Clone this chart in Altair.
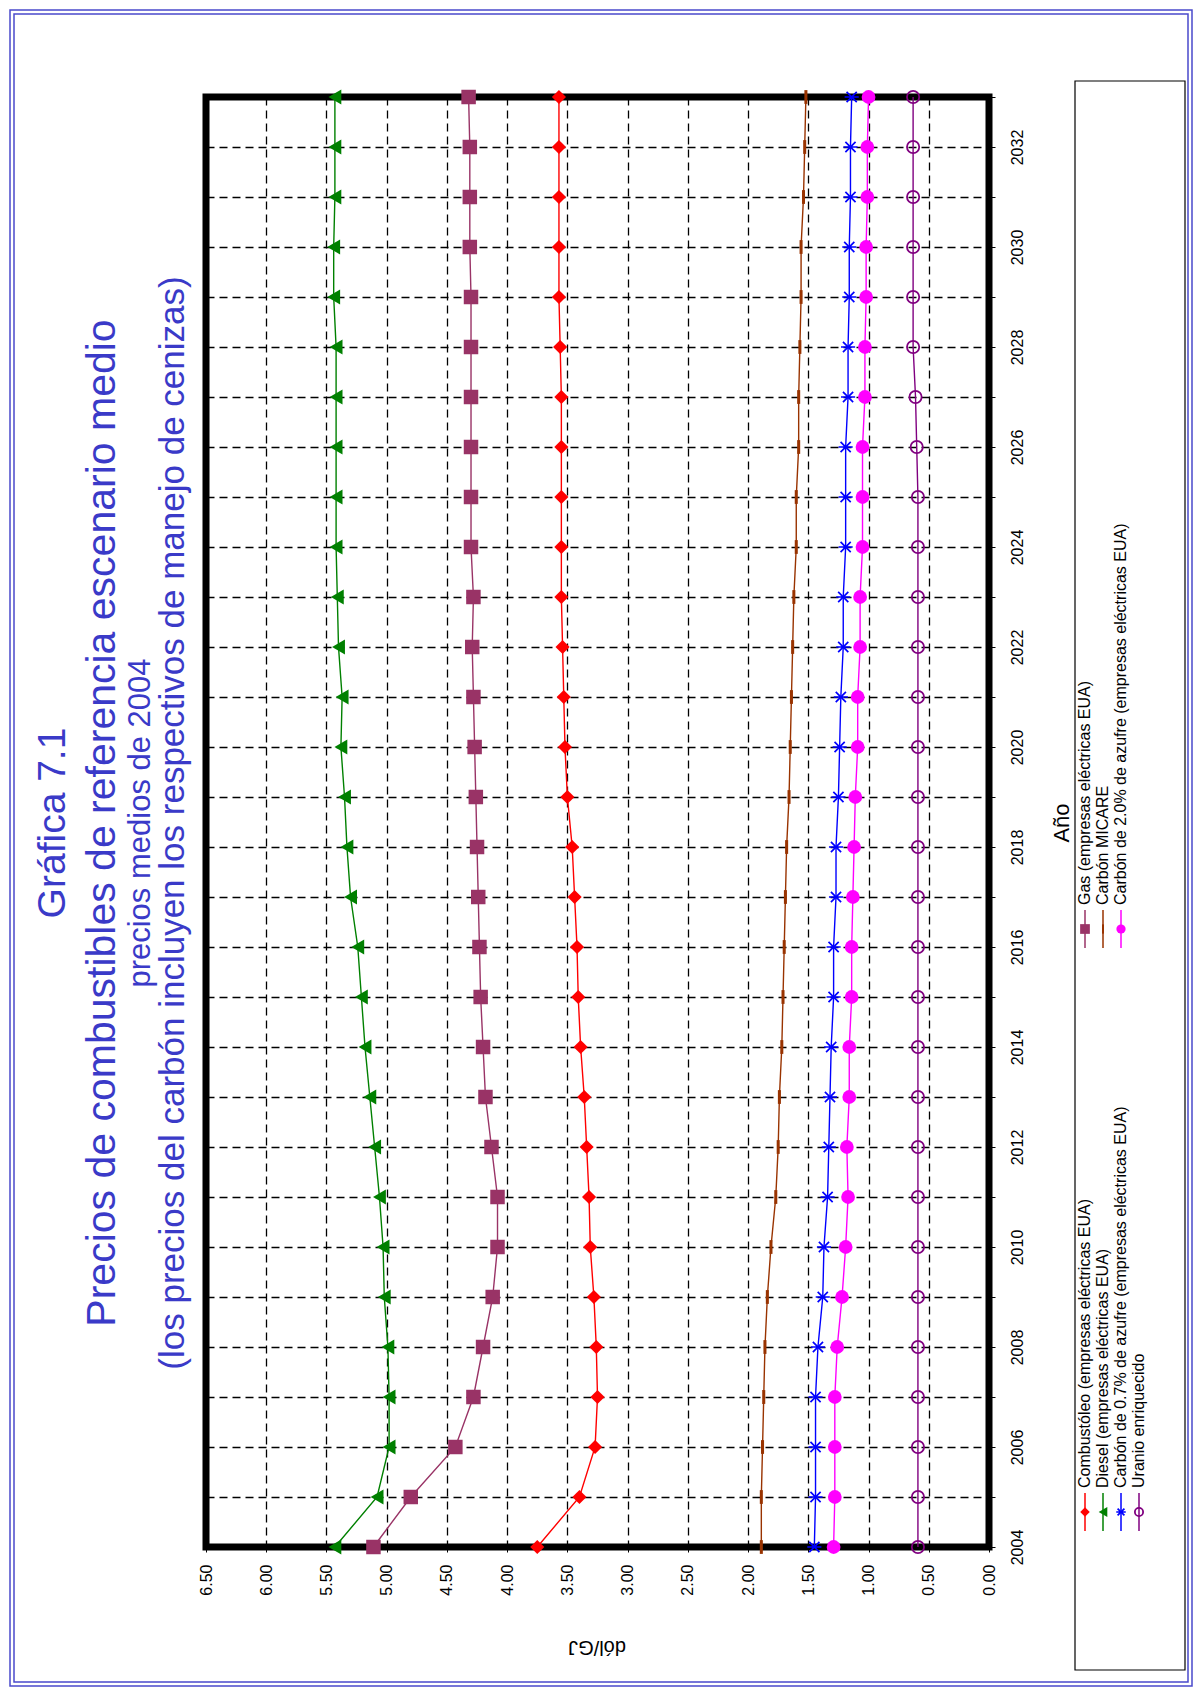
import altair as alt
import pandas as pd

# ---------------- data ----------------
years = list(range(2004, 2034))
combustoleo = [3.75, 3.40, 3.27, 3.25, 3.26, 3.28, 3.31, 3.32, 3.34, 3.36,
               3.39, 3.41, 3.42, 3.44, 3.46, 3.50, 3.52, 3.53, 3.54, 3.55,
               3.55, 3.55, 3.55, 3.55, 3.56, 3.57, 3.57, 3.57, 3.57, 3.57]
diesel = [5.43, 5.08, 4.98, 4.98, 4.99, 5.02, 5.03, 5.06, 5.10, 5.14,
          5.18, 5.21, 5.24, 5.30, 5.33, 5.35, 5.38, 5.37, 5.40, 5.41,
          5.42, 5.42, 5.42, 5.42, 5.42, 5.44, 5.44, 5.43, 5.43, 5.43]
carbon_07 = [1.45, 1.44, 1.44, 1.44, 1.42, 1.38, 1.37, 1.34, 1.33, 1.32,
             1.31, 1.29, 1.29, 1.27, 1.27, 1.25, 1.24, 1.23, 1.21, 1.21,
             1.19, 1.19, 1.19, 1.17, 1.17, 1.16, 1.16, 1.15, 1.15, 1.14]
uranio = [0.59, 0.59, 0.59, 0.59, 0.59, 0.59, 0.59, 0.59, 0.59, 0.59,
          0.59, 0.59, 0.59, 0.59, 0.59, 0.59, 0.59, 0.59, 0.59, 0.59,
          0.59, 0.59, 0.60, 0.61, 0.63, 0.63, 0.63, 0.63, 0.63, 0.63]
gas = [5.11, 4.80, 4.43, 4.28, 4.20, 4.12, 4.08, 4.08, 4.13, 4.18,
       4.20, 4.22, 4.23, 4.24, 4.25, 4.26, 4.27, 4.28, 4.29, 4.28,
       4.30, 4.30, 4.30, 4.30, 4.30, 4.30, 4.31, 4.31, 4.31, 4.32]
carbon_micare = [1.89, 1.89, 1.88, 1.87, 1.86, 1.84, 1.81, 1.77, 1.75, 1.74,
                 1.72, 1.71, 1.70, 1.69, 1.68, 1.66, 1.65, 1.64, 1.63, 1.62,
                 1.60, 1.60, 1.58, 1.58, 1.57, 1.56, 1.56, 1.54, 1.53, 1.52]
carbon_20 = [1.29, 1.28, 1.28, 1.28, 1.26, 1.22, 1.19, 1.17, 1.18, 1.16,
             1.16, 1.14, 1.14, 1.13, 1.12, 1.11, 1.09, 1.09, 1.07, 1.07,
             1.05, 1.05, 1.05, 1.03, 1.03, 1.02, 1.02, 1.01, 1.01, 1.00]

series_names = [
    "Combustóleo (empresas eléctricas EUA)",
    "Diesel (empresas eléctricas EUA)",
    "Carbón de 0.7% de azufre (empresas eléctricas EUA)",
    "Uranio enriquecido",
    "Gas (empresas eléctricas EUA)",
    "Carbón MICARE",
    "Carbón de 2.0% de azufre (empresas eléctricas EUA)",
]
series_values = [combustoleo, diesel, carbon_07, uranio, gas, carbon_micare, carbon_20]

value_ticks = [0.0, 0.5, 1.0, 1.5, 2.0, 2.5, 3.0, 3.5, 4.0, 4.5, 5.0, 5.5, 6.0, 6.5]

title_lines = [
    "Gráfica 7.1",
    "Precios de combustibles de referencia escenario medio",
    "precios medios de 2004",
    "(los precios del carbón incluyen los respectivos de manejo de cenizas)",
]
x_title = "Año"
y_title = "dól/GJ"

# ---------------- styles ----------------
FONT = "Liberation Sans, Arial, Helvetica, sans-serif"
ASTERISK = "M-1,0L1,0M-0.72,-0.72L0.72,0.72M-0.72,0.72L0.72,-0.72"
BAR = "M-0.22,-1L0.22,-1L0.22,1L-0.22,1Z"
styles = [
    dict(color="#FF0000", shape="diamond", filled=True, size=200, sw=1),
    dict(color="#008000", shape="triangle-left", filled=True, size=220, sw=1),
    dict(color="#0000FF", shape=ASTERISK, filled=False, size=200, sw=1.7),
    dict(color="#800080", shape="circle", filled=False, size=150, sw=1.8),
    dict(color="#993366", shape="square", filled=True, size=210, sw=1),
    dict(color="#993300", shape=BAR, filled=True, size=190, sw=1),
    dict(color="#FF00FF", shape="circle", filled=True, size=190, sw=1),
]

W, H = 783, 1450
one = pd.DataFrame({"k": [0]})

xscale = alt.Scale(domain=[0, 6.5], reverse=True, nice=False, zero=False)
yscale = alt.Scale(domain=[2004, 2033], nice=False, zero=False)

layers = []

# frame (double blue line) and legend box
def rect(x1, x2, y1, y2, color, sw):
    return alt.Chart(one).mark_rect(fill=None, stroke=color, strokeWidth=sw).encode(
        x=alt.value(x1), x2=alt.value(x2), y=alt.value(y1), y2=alt.value(y2))

layers.append(rect(-196, 986, -87, 1589, "#4a4acc", 1.5))
layers.append(rect(-192, 982, -83, 1585, "#4a4acc", 1.5))
layers.append(rect(869, 979, -16, 1573, "black", 1.2))

# series
for i, (name, vals) in enumerate(zip(series_names, series_values)):
    st = styles[i]
    df = pd.DataFrame({"year": years, "value": vals, "serie": name})
    xenc = alt.X("value:Q", scale=xscale,
                 axis=alt.Axis(values=value_ticks, format=".2f", title=None, orient="bottom",
                               labelAngle=270, labelAlign="right", labelBaseline="middle",
                               labelFontSize=16, labelFont=FONT, labelColor="black",
                               tickSize=5, tickColor="black", labelPadding=12,
                               grid=True, gridColor="black", gridDash=[8, 5], gridWidth=1.3,
                               domain=False))
    yenc = alt.Y("year:Q", scale=yscale,
                 axis=alt.Axis(values=years, title=None, orient="right",
                               labelExpr="datum.value % 2 == 0 ? format(datum.value, 'd') : ''",
                               labelAngle=270, labelAlign="center", labelBaseline="top",
                               labelFontSize=16, labelFont=FONT, labelColor="black",
                               tickSize=6, tickColor="black", labelPadding=14,
                               grid=True, gridColor="black", gridDash=[8, 5], gridWidth=1.3,
                               domain=False))
    base = alt.Chart(df)
    line = base.mark_line(color=st["color"], strokeWidth=1.4).encode(
        x=xenc, y=yenc, order="year:Q")
    pts = base.mark_point(shape=st["shape"], filled=st["filled"], size=st["size"],
                          color=st["color"], strokeWidth=st["sw"], opacity=1).encode(
        x=alt.X("value:Q", scale=xscale), y=alt.Y("year:Q", scale=yscale))
    layers += [line, pts]

# titles
def text(s, x, y, size, color="black", angle=270, align="center", baseline="middle"):
    return alt.Chart(one).mark_text(text=s, angle=angle, align=align, baseline=baseline,
                                    fontSize=size, font=FONT, color=color).encode(
        x=alt.value(x), y=alt.value(y))

TB = "#3a3ac8"
layers.append(text(title_lines[0], -153, 726, 39, TB))
layers.append(text(title_lines[1], -103, 726, 41, TB))
layers.append(text(title_lines[2], -65, 726, 31, TB))
layers.append(text(title_lines[3], -33, 726, 35, TB))
layers.append(text(x_title, 856, 726, 22))
layers.append(text(y_title, 391, 1550, 20, angle=180))

# legend
leg_pos = [
    (879, 1415), (897, 1415), (915, 1415), (933, 1415),
    (879, 832), (897, 832), (915, 832),
]
for i, name in enumerate(series_names):
    st = styles[i]
    lx, ly = leg_pos[i]
    layers.append(alt.Chart(one).mark_rule(color=st["color"], strokeWidth=1.5).encode(
        x=alt.value(lx), y=alt.value(ly - 19), y2=alt.value(ly + 19)))
    layers.append(alt.Chart(one).mark_point(shape=st["shape"], filled=st["filled"],
                                            size=st["size"] * 0.45, color=st["color"],
                                            strokeWidth=st["sw"], opacity=1).encode(
        x=alt.value(lx), y=alt.value(ly)))
    layers.append(text(name, lx, ly - 24, 16, align="left"))

chart = alt.layer(*layers).properties(
    width=W, height=H, background="white",
    autosize=alt.AutoSizeParams(type="none"),
    padding={"left": 198, "top": 89, "right": 205, "bottom": 141},
).configure_view(stroke="black", strokeWidth=7)

chart.save("out.html", embed_options={"renderer": "svg", "actions": False})
